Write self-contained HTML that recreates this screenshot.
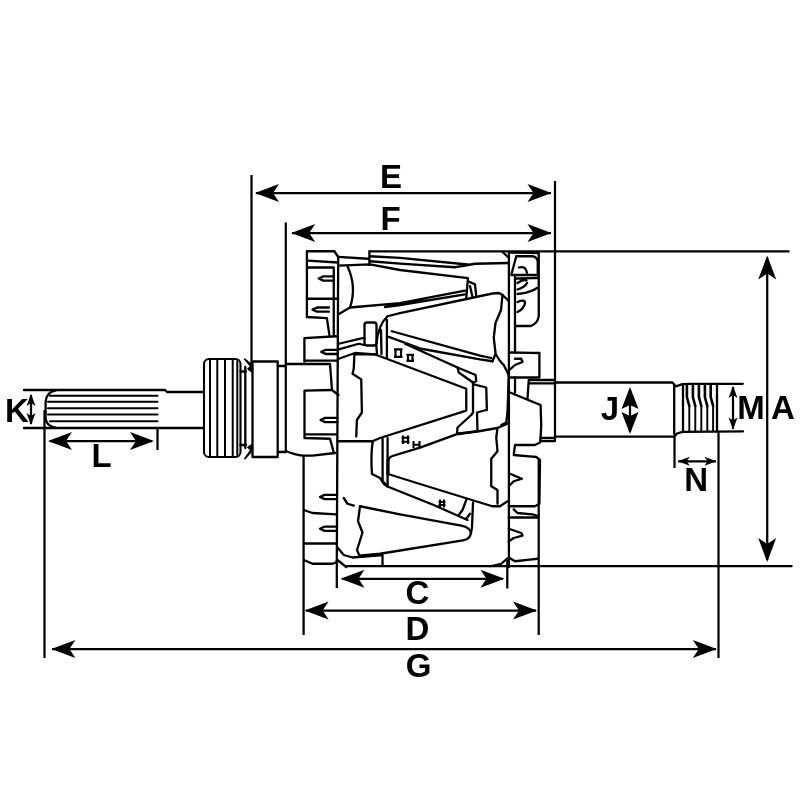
<!DOCTYPE html>
<html><head><meta charset="utf-8"><title>Rotor</title>
<style>
html,body{margin:0;padding:0;background:#fff;}
svg{display:block}
text{font-family:"Liberation Sans",sans-serif;font-weight:bold;font-size:33px;fill:#000;text-anchor:middle}
.d{stroke:#000;stroke-width:2.25;fill:none}
.r{stroke:#000;stroke-width:2.3;fill:none;stroke-linejoin:round;stroke-linecap:round}
.t{stroke:#000;stroke-width:2;fill:none}
.a{fill:#000;stroke:none}
</style></head><body>
<svg width="800" height="800" viewBox="0 0 800 800">
<rect width="800" height="800" fill="#fff"/>
<defs>
<filter id="nf" x="0" y="0" width="800" height="800" filterUnits="userSpaceOnUse"><feOffset dx="0" dy="0"/></filter>
<path id="ah" d="M0,0 L24,-9 L18,0 L24,9 Z"/>
<path id="as" d="M0,0 L12,-4.5 L9,0 L12,4.5 Z"/>
</defs>

<!-- DIMENSIONS -->
<g class="d">
<path d="M251.5,175V364 M555,181V441 M256,193H551"/>
<path d="M285.8,222.5V451 M292,233H551"/>
<path d="M369.4,251.4H789.5 M346,566.2H792.5 M767.2,258V560"/>
<path d="M44.5,410V658 M718.5,432V658 M52,649H716"/>
<path d="M303.6,456V635 M538.7,460V635 M306,610.5H536"/>
<path d="M336.8,560V588 M507.3,560V588.6 M342,578.8H503"/>
<path d="M157.5,429V450 M50,441H152"/>
<path d="M674.5,436.5V468 M678,461.25H716"/>
<path d="M31,395V424 M733,387V429 M630,390V432"/>
</g>
<g class="a">
<use href="#ah" transform="translate(255,193)"/><use href="#ah" transform="translate(551.5,193) scale(-1,1)"/>
<use href="#ah" transform="translate(291.2,233)"/><use href="#ah" transform="translate(551.5,233) scale(-1,1)"/>
<use href="#ah" transform="translate(767.2,255.6) rotate(90)"/><use href="#ah" transform="translate(767.2,562) rotate(-90)"/>
<use href="#ah" transform="translate(51.4,649)"/><use href="#ah" transform="translate(716.8,649) scale(-1,1)"/>
<use href="#ah" transform="translate(304.6,610.5)"/><use href="#ah" transform="translate(537,610.5) scale(-1,1)"/>
<use href="#ah" transform="translate(340.5,578.8)"/><use href="#ah" transform="translate(504.5,578.8) scale(-1,1)"/>
<use href="#ah" transform="translate(48,441)"/><use href="#ah" transform="translate(154,441) scale(-1,1)"/>
<use href="#as" transform="translate(677.75,461.25)"/><use href="#as" transform="translate(716.5,461.25) scale(-1,1)"/>
<use href="#as" transform="translate(31,394) rotate(90)"/><use href="#as" transform="translate(31,425) rotate(-90)"/>
<use href="#as" transform="translate(733,386) rotate(90)"/><use href="#as" transform="translate(733,429.5) rotate(-90)"/>
<path d="M630,387 L638.5,409 L630,405 L621.5,409 Z M630,434 L638.5,412 L630,416 L621.5,412 Z"/>
</g>
<g style="will-change:transform" filter="url(#nf)">
<text x="391" y="188">E</text>
<text x="390.5" y="229.5">F</text>
<text x="783" y="418.5">A</text>
<text x="751" y="418.5">M</text>
<text x="610" y="420.2">J</text>
<text x="696.2" y="491.2">N</text>
<text x="17" y="422">K</text>
<text x="101.5" y="467">L</text>
<text x="417.5" y="604.4">C</text>
<text x="417.5" y="639.75">D</text>
<text x="418.5" y="677.3">G</text>
</g>

<!-- LEFT SHAFT -->
<g class="r">
<path d="M24,390H165L167,392H203.75 M24,428H203.75"/>
<path d="M56,390.3Q46,392 45.6,402V418Q46,426 56,427.8"/>
<path d="M50,395.75H157.5 M48,401.75H157.5 M48,408.25H157.5 M48,414.5H157.5 M50,421.25H157.5" class="t"/>
<rect x="204" y="359" width="36.5" height="98" rx="5" stroke-width="2.1"/>
<path d="M210,360V456 M217.3,359V457 M225,359V457 M232.7,359V457 M237.3,361V455" class="t"/>
<path d="M240.5,371.5H246 M240.5,445H246 M245.3,367V448"/>
<path d="M244.8,359.2L252.3,365.5V372L248,368.8L251,366.5Z M244.8,458.6L252.3,450.5V444.5L248,447.5L251,450Z" fill="#000" stroke-width="1.6"/>
<rect x="252.5" y="361.5" width="25.2" height="95.5"/>
<path d="M278,366H286 M278,452H286"/>
</g>

<!-- ROTOR BODY -->
<g class="r" id="body">
<!-- hub left -->
<path d="M286,364H330L332,390L338.5,395"/>
<path d="M286,451Q295,455 303,455.6H312.5L335,453"/>
<!-- main verticals -->
<path d="M338.2,257L336.8,562"/>
<path d="M508.9,252.5V567"/>
<!-- finger 1 -->
<path d="M306.9,317V251.25H334.4L338.1,256.9 M306.9,317L326.9,318.1L329.4,335"/>
<path d="M307.5,260.6L338.1,262.5 M307.5,267.5H333.75V335 M307.5,298.75H338.1"/>
<path d="M334,276.4L323.25,276.4L318.75,278.5L323.25,280.6L334,280.6 M329,307.5L317.0,307.5L312.5,309.6L317.0,311.70000000000005L329,311.70000000000005"/>
<!-- finger 2 -->
<path d="M304.4,362V338.1L336.25,336.25 M305,360.6H337.5"/>
<path d="M337.5,349.79999999999995L325.75,349.79999999999995L321.25,351.9L325.75,354.0L337.5,354.0"/>
<!-- finger 3 -->
<path d="M304.5,438V390.6L331.5,390 M305,434.4H337 M305,438L330,438.75L333.75,452.5"/>
<path d="M337.5,417.9L325.1,417.9L320.6,420L325.1,422.1L337.5,422.1"/>
<!-- lower-left -->
<path d="M337,494.9L324.5,494.9L320,497L324.5,499.1L337,499.1 M337,526.65L324.5,526.65L320,528.75L324.5,530.85L337,530.85"/>
<path d="M303.75,510L312.5,513L336.25,514.4 M305,543.5H336 M303.75,560L312.5,563.75H332.5L337,562"/>
<!-- coil top / claw 1 -->
<path d="M369.4,251.25V265 M338.1,256.9L368.1,258.75"/>
<path d="M370,256.25L400,257.8L470,264.75 M370,261.25L400,263.7L455,267.25L475,263.75L508.75,263"/>
<path d="M338.1,265.6L370,264.4L400,270L468,278.1L466.25,298"/>
<path d="M468,281.25L475,284.4L476.25,296.25 M470,286L472.5,297"/>
<path d="M347.5,266.25Q357,287 350,307.5L338.1,314.4"/>
<path d="M350,307.5L400,303.1L465,290.6 M385,307L400,305L465,294.4"/>
<path d="M502.5,252L509,258"/>
<!-- claw 2 -->
<path d="M387.5,316.25L400,313.1L492.5,293.5L499,293L502.5,295L508.75,301"/>
<path d="M502.5,295L501,310L495.5,323L493.75,337.5L495.6,353.75L492.5,361.25 M495.6,353.75Q500,362 503.75,365L508.75,375"/>
<path d="M391.9,331.25L480,355.6L491.25,358 M388.75,336.9L421.25,348.75L480,359.4L492.5,361.25 M405,343.75L457.5,367.5"/>
<path d="M387.5,316.25Q378,325 376.25,345L377,354 M386.9,320V357.5 M381,330L381.5,354"/>
<!-- small block & wires -->
<rect x="364.5" y="322.5" width="12" height="23" rx="2.5"/>
<path d="M338.75,343.75L362.5,338.1H364.5 M338.75,349.4L358.75,343.75L364,345 M338.75,358.75L355,353L375,354.4"/>
<!-- claw 3 -->
<path d="M354.4,354.4L353.75,368.75L352.5,373.75L361.25,379.4L361.9,412.5L356.9,420L356.25,436.5"/>
<path d="M354.4,354.4H375L380,356.25L466.25,388.75V410.6L380,438L372.5,441.25H337.5"/>
<!-- right of claw 3 -->
<path d="M457.5,367.5L475.6,375L476.25,381.25L473,382.5L458.75,372.5Z"/>
<path d="M473,382.5V412.5L471.25,415L457.5,427.5L457,433.75L477.5,431.25L477,412.5L486.25,410"/>
<path d="M473.75,384.4L486.25,387.5L486.9,410"/>
<!-- claw 4 -->
<path d="M388,461Q388.5,457.5 392.5,456L420,447.6L456.25,434.4L478.75,431.25L497.5,428L507.5,423.75"/>
<path d="M497.5,428L496.25,437.5L497.5,451.25L491.25,458.75V486.25L497.5,490V503.75"/>
<path d="M388,474L420,484L480,502.5L492.5,506.25H500L507.5,501.25"/>
<path d="M387.6,438V486 M382.6,439V481L387.5,486.5L433.75,505L467.5,520"/><path d="M388,460V474" stroke-width="3.2"/>
<path d="M372.8,441.25Q370.5,455 372,474L380,478L384,484L387.5,486.5"/>
<path d="M508.75,375L507.5,412.5L506.25,422.5L501.25,425"/>
<!-- claw 5 -->
<path d="M360,506.25L358,521.25L362.5,532.5L357,550L359.4,555.6"/>
<path d="M360,506.25L400,514.4L461.25,525.6Q470.5,527.5 470.8,533Q470.5,539 463,540.3L380,553.75L359.4,555.6"/>
<path d="M473,502.5L472,527.5L471,533 M466.25,500L462.5,510L458.75,515 M470,513.75L466.25,518.75"/>
<path d="M337.5,547.5L343.75,555L352.5,557.5L382.5,555V566 M337.5,560L346.25,567"/>
<path d="M490,566.25L501.25,563.75L507,558.75"/>
<path d="M343.75,498L347.5,503.75L353.75,505.6"/>
<!-- right finger 1 -->
<path d="M510,252.5L538.75,253V316Q538,323 531,326H516"/>
<path d="M515,276V352.5 M515,377.5V392.5"/>
<path d="M516.25,256.25H532.5Q537.5,257 537.75,262V275 M516.25,256.25L511.25,275H537.5"/>
<path d="M519,267.5Q526,265.5 527,273 M516,278.5L537.5,278 M517.5,283Q523,279 526.5,280.5 M517.5,289.5Q525,287 527,283 M517.5,294Q530,293 537,288 M517.5,302Q525,299 525,303Q524,309 517.5,312"/>
<!-- right finger 2 -->
<path d="M510,352.5L539.4,353V377.5H510"/>
<path d="M515,358.75H521.25L522.5,362L515,365L510,369.4"/>
<!-- right shaft ring -->
<path d="M528.75,380L527.5,398.75 M528.75,380H555 M528.5,383.4H555 M540.6,437.8H555 M540,441H555"/>
<!-- right hub -->
<path d="M510,392.5L540.6,405L541.25,425L540.6,437.5L540,442.5L535,445H515L513.75,455L536.25,457L540,460L539.4,503.75L535,506.25H508.75"/>
<path d="M510,473.75L521.9,478.75L513.75,481.25L510,485"/>
<path d="M513.75,509.4L517.5,513L532.5,514.4L538.75,516.25"/>
<!-- right finger 4 -->
<path d="M508.75,517.5H538 M508.75,557.5L515,561.25L537.5,558.75"/>
<path d="M508.75,528.75L521.25,533L522.5,535.6L513.75,538L508.75,541.25"/>
</g>
<!-- marks -->
<g class="t">
<path d="M394,349.3H402.5 M395.5,349.3V356.8 M401,349.3V356.8 M394,356.8H402.5 M406.5,354.8H414 M408,354.8V360.8 M412.5,354.8V360.8 M406.5,360.8H414" stroke-width="2.2"/>
<path d="M403,435.5V444 M408,435.5V444 M401.5,437.8H409.5 M401.5,441.8H409.5 M413.5,441V448 M419.5,441V448 M413.5,444.8H419.5" stroke-width="2.1"/>
<path d="M440,499.5V507.5 M444,499.5V507.5 M438.5,502H445.5 M438.5,505H445.5"/>
</g>

<!-- RIGHT SHAFT -->
<g class="r">
<path d="M555,382.5H672.4L675.75,386.3L682.5,384.2L691.5,383.8H742.8 M555,436.6H674.4L677,433.5L682.5,431.9L743,431.4" stroke-width="2.3"/>
<path d="M674.2,386V434 M683,384.5V431.5 M717,384V431.5"/>
<path d="M686.9,384.5V397L689.3,406 M692.9,384.5V397L695.3,406 M698.9,384.5V397L701.3,406 M704.9,384.5V397L707.3,406 M710.7,384.5V397L713.1,406" stroke-width="2.6"/>
<path d="M689.3,406V431 M695.3,406V431 M701.3,406V431 M707.3,406V431 M713.1,406V431" stroke-width="1.9"/>
</g>
</svg>
</body></html>
